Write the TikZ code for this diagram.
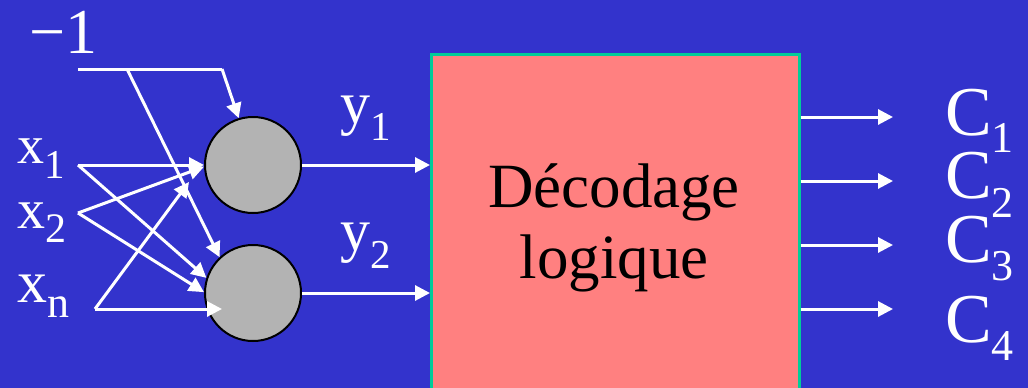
\documentclass[tikz,border=0pt]{standalone}
\usepackage{fontspec}
\setmainfont{Liberation Serif}
\usetikzlibrary{arrows.meta}
\definecolor{bg}{RGB}{51,51,204}
\definecolor{boxfill}{RGB}{255,128,128}
\definecolor{boxline}{RGB}{0,204,153}
\definecolor{neuron}{RGB}{179,179,179}
\newcommand{\mklbl}[5]{{\fontsize{#1}{#1}\selectfont #4}\raisebox{-#3pt}{\fontsize{#2}{#2}\selectfont #5}}
\begin{document}
\begin{tikzpicture}[x=1pt,y=-1pt,
  wire/.style={draw=white, line width=3pt, -{Triangle[length=15pt,width=15pt]}},
  plain/.style={draw=white, line width=3pt},
  neuronnode/.style={circle, draw=black, line width=2pt, fill=neuron, minimum size=96pt, inner sep=0pt},
  lbl/.style={text=white, inner sep=0pt, anchor=base west},
  decbox/.style={draw=boxline, line width=2.5pt, fill=boxfill, anchor=north west, minimum width=368pt, minimum height=345pt, inner sep=0pt}]
\useasboundingbox (0,0) rectangle (1028,388);
\fill[bg] (0,0) rectangle (1028,388);
\node[decbox] (dec) at (430,53) {};
\node[inner sep=0pt, align=center, anchor=base, font=\fontsize{63}{71}\selectfont] (dectext) at (614,278) {Décodage\\logique};
\node[neuronnode] (n1) at (253,165) {};
\node[neuronnode] (n2) at (253,293) {};
% inputs
\coordinate (bstart) at (78,69);
\coordinate (bsplit) at (127,69);
\coordinate (bcorner) at (222,69);
\coordinate (x1s) at (78,165);
\coordinate (x2s) at (78,213);
\coordinate (xns) at (95,309);
\coordinate (xnt1) at (189,182);
\coordinate (xnt2) at (222,309);
\coordinate (c1t) at (893,117);
\coordinate (c2t) at (893,181);
\coordinate (c3t) at (893,245);
\coordinate (c4t) at (893,309);
\draw[plain] (bstart) -- (bcorner);
\draw[wire] (bcorner) -- (n1.107);
\draw[wire] (bsplit) -- (n2.133);
\draw[wire] (x1s) -- (n1.west);
\draw[wire] (x1s) -- (n2.162);
\draw[wire] (x2s) -- (n1.182);
\draw[wire] (x2s) -- (n2.179);
\draw[wire] (xns) -- (xnt1);
\draw[wire] (xns) -- (xnt2);
\draw[wire] (n1.east) -- (n1.east -| dec.west);
\draw[wire] (n2.east) -- (n2.east -| dec.west);
\draw[wire] (dec.east |- c1t) -- (c1t);
\draw[wire] (dec.east |- c2t) -- (c2t);
\draw[wire] (dec.east |- c3t) -- (c3t);
\draw[wire] (dec.east |- c4t) -- (c4t);
% labels
\node[lbl] (m1) at (29,53) {\fontsize{64}{64}\selectfont −1};
\node[lbl] (x1) at (17,163) {\mklbl{54}{41}{15}{x}{1}};
\node[lbl] (x2) at (17,228) {\mklbl{56}{42}{14}{x}{2}};
\node[lbl] (xn) at (17,302) {\mklbl{60}{44}{15}{x}{n}};
\node[lbl] (y1) at (340,123) {\mklbl{60}{41}{17}{y}{1}};
\node[lbl] (y2) at (340,250) {\mklbl{60}{41}{18}{y}{2}};
\node[lbl] (C1) at (945,135) {\mklbl{70}{44}{17}{C}{1}};
\node[lbl] (C2) at (945,198) {\mklbl{70}{44}{19}{C}{2}};
\node[lbl] (C3) at (945,262) {\mklbl{70}{44}{18}{C}{3}};
\node[lbl] (C4) at (945,342) {\mklbl{70}{44}{18}{C}{4}};
\end{tikzpicture}
\end{document}
